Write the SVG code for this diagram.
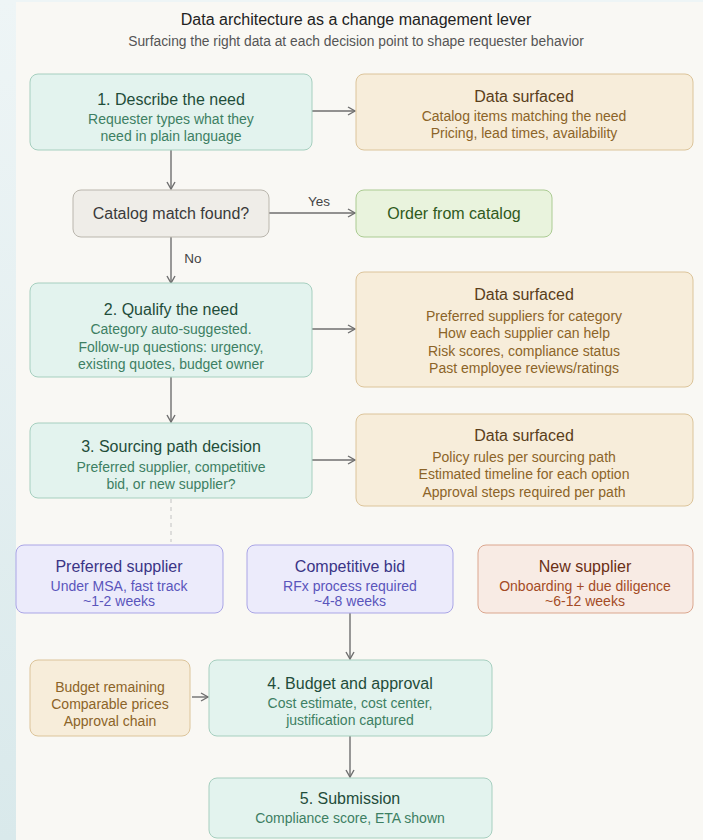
<svg xmlns="http://www.w3.org/2000/svg" width="703" height="840" viewBox="0 0 703 840">
  <defs>
    <linearGradient id="side" x1="0" y1="0" x2="0" y2="1">
      <stop offset="0" stop-color="#eef5f6"/>
      <stop offset="1" stop-color="#d9e9eb"/>
    </linearGradient>
    <marker id="arr" markerWidth="10" markerHeight="10" refX="8" refY="5" orient="auto" markerUnits="userSpaceOnUse">
      <path d="M1,1 L8,5 L1,9" fill="none" stroke="#6f6f6f" stroke-width="1.4"/>
    </marker>
    <style>
      text { font-family: "Liberation Sans", Arial, sans-serif; text-anchor: middle; }
      .title { font-size: 16px; fill: #222; }
      .sub { font-size: 13.8px; fill: #555; }
      .step rect { fill: #e3f3ee; stroke: #a6cfbf; stroke-width: 1; }
      .step .h { font-size: 16px; fill: #1f4d3a; }
      .step .t { font-size: 14px; fill: #3d7f63; }
      .data rect { fill: #f7edda; stroke: #dcc49a; stroke-width: 1; }
      .data .h { font-size: 16px; fill: #5a3e1a; }
      .data .t { font-size: 14px; fill: #8c6428; }
      .dec rect { fill: #efede8; stroke: #bab6ad; stroke-width: 1; }
      .dec text { font-size: 16px; fill: #3a3a3a; }
      .ok rect { fill: #e9f3dd; stroke: #abcb92; stroke-width: 1; }
      .ok text { font-size: 16px; fill: #2f5a20; }
      .path rect { fill: #ecebfb; stroke: #aaa5e6; stroke-width: 1; }
      .path .h { font-size: 16px; fill: #3a3586; }
      .path .t { font-size: 14px; fill: #5a55bb; }
      .newp rect { fill: #f8ebe4; stroke: #dba68e; stroke-width: 1; }
      .newp .h { font-size: 16px; fill: #6b2f15; }
      .newp .t { font-size: 14px; fill: #a44b26; }
      .conn line { stroke: #6f6f6f; stroke-width: 1.4; }
      .conn .dash { stroke: #c2c2c2; stroke-width: 1; stroke-dasharray: 4,4; }
      .lbl { font-size: 13.5px; fill: #444; }
    </style>
  </defs>

  <!-- page -->
  <rect x="0" y="0" width="703" height="840" fill="url(#side)"/>
  <rect x="16" y="2" width="687" height="838" fill="#f9f8f4"/>

  <text class="title" x="356" y="25">Data architecture as a change management lever</text>
  <text class="sub" x="356" y="46">Surfacing the right data at each decision point to shape requester behavior</text>

  <!-- connectors -->
  <g id="connectors" class="conn">
    <line x1="312" y1="111" x2="355" y2="111" marker-end="url(#arr)"/>
    <line x1="171" y1="150" x2="171" y2="189" marker-end="url(#arr)"/>
    <line x1="269" y1="213" x2="355" y2="213" marker-end="url(#arr)"/>
    <text class="lbl" x="319" y="206">Yes</text>
    <line x1="171" y1="237" x2="171" y2="283" marker-end="url(#arr)"/>
    <text class="lbl" x="193" y="263">No</text>
    <line x1="312" y1="329" x2="355" y2="329" marker-end="url(#arr)"/>
    <line x1="171" y1="377" x2="171" y2="422" marker-end="url(#arr)"/>
    <line x1="312" y1="460" x2="355" y2="460" marker-end="url(#arr)"/>
    <line class="dash" x1="171" y1="499" x2="171" y2="542"/>
    <line x1="350" y1="613" x2="350" y2="659" marker-end="url(#arr)"/>
    <line x1="192" y1="697" x2="208" y2="697" marker-end="url(#arr)"/>
    <line x1="350" y1="736" x2="350" y2="777" marker-end="url(#arr)"/>
  </g>

  <g id="step1" class="step">
    <rect x="30" y="74" width="282" height="76" rx="8"/>
    <text class="h" x="171" y="105">1. Describe the need</text>
    <text class="t" x="171" y="124">Requester types what they</text>
    <text class="t" x="171" y="141">need in plain language</text>
  </g>

  <g id="data1" class="data">
    <rect x="356" y="74" width="337" height="76" rx="8"/>
    <text class="h" x="524" y="102">Data surfaced</text>
    <text class="t" x="524" y="121">Catalog items matching the need</text>
    <text class="t" x="524" y="138">Pricing, lead times, availability</text>
  </g>

  <g id="catalog-match" class="dec">
    <rect x="73" y="190" width="196" height="47" rx="8"/>
    <text x="171" y="219">Catalog match found?</text>
  </g>

  <g id="order-catalog" class="ok">
    <rect x="356" y="190" width="196" height="47" rx="8"/>
    <text x="454" y="219">Order from catalog</text>
  </g>

  <g id="step2" class="step">
    <rect x="30" y="283" width="282" height="94" rx="8"/>
    <text class="h" x="171" y="315">2. Qualify the need</text>
    <text class="t" x="171" y="334">Category auto-suggested.</text>
    <text class="t" x="171" y="352">Follow-up questions: urgency,</text>
    <text class="t" x="171" y="369">existing quotes, budget owner</text>
  </g>

  <g id="data2" class="data">
    <rect x="356" y="272" width="337" height="115" rx="8"/>
    <text class="h" x="524" y="300">Data surfaced</text>
    <text class="t" x="524" y="321">Preferred suppliers for category</text>
    <text class="t" x="524" y="338">How each supplier can help</text>
    <text class="t" x="524" y="356">Risk scores, compliance status</text>
    <text class="t" x="524" y="373">Past employee reviews/ratings</text>
  </g>

  <g id="step3" class="step">
    <rect x="30" y="423" width="282" height="75" rx="8"/>
    <text class="h" x="171" y="452">3. Sourcing path decision</text>
    <text class="t" x="171" y="472">Preferred supplier, competitive</text>
    <text class="t" x="171" y="489">bid, or new supplier?</text>
  </g>

  <g id="data3" class="data">
    <rect x="356" y="414" width="337" height="92" rx="8"/>
    <text class="h" x="524" y="441">Data surfaced</text>
    <text class="t" x="524" y="462">Policy rules per sourcing path</text>
    <text class="t" x="524" y="479">Estimated timeline for each option</text>
    <text class="t" x="524" y="497">Approval steps required per path</text>
  </g>

  <g id="preferred" class="path">
    <rect x="16" y="545" width="207" height="68" rx="8"/>
    <text class="h" x="119" y="572">Preferred supplier</text>
    <text class="t" x="119" y="591">Under MSA, fast track</text>
    <text class="t" x="119" y="606">~1-2 weeks</text>
  </g>

  <g id="competitive" class="path">
    <rect x="247" y="545" width="206" height="68" rx="8"/>
    <text class="h" x="350" y="572">Competitive bid</text>
    <text class="t" x="350" y="591">RFx process required</text>
    <text class="t" x="350" y="606">~4-8 weeks</text>
  </g>

  <g id="new-supplier" class="newp">
    <rect x="478" y="545" width="215" height="68" rx="8"/>
    <text class="h" x="585" y="572">New supplier</text>
    <text class="t" x="585" y="591">Onboarding + due diligence</text>
    <text class="t" x="585" y="606">~6-12 weeks</text>
  </g>

  <g id="budget-data" class="data">
    <rect x="30" y="660" width="160" height="76" rx="8"/>
    <text class="t" x="110" y="692">Budget remaining</text>
    <text class="t" x="110" y="709">Comparable prices</text>
    <text class="t" x="110" y="726">Approval chain</text>
  </g>

  <g id="step4" class="step">
    <rect x="209" y="660" width="283" height="76" rx="8"/>
    <text class="h" x="350" y="689">4. Budget and approval</text>
    <text class="t" x="350" y="708">Cost estimate, cost center,</text>
    <text class="t" x="350" y="725">justification captured</text>
  </g>

  <g id="step5" class="step">
    <rect x="209" y="778" width="283" height="60" rx="8"/>
    <text class="h" x="350" y="804">5. Submission</text>
    <text class="t" x="350" y="823">Compliance score, ETA shown</text>
  </g>
</svg>
